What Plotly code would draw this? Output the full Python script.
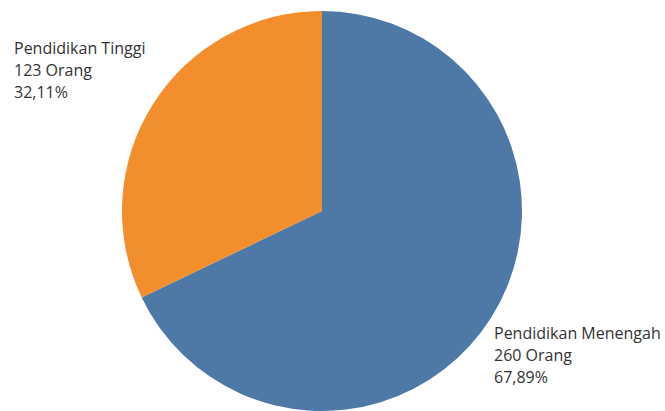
import plotly.graph_objects as go

categories = ["Pendidikan Menengah", "Pendidikan Tinggi"]
counts = [260, 123]
percent_labels = ["67,89%", "32,11%"]
colors = ["#4e79a7", "#f28e2b"]

W, H = 665, 411

def px_x(x):
    return x / W

def px_y(y):
    return 1 - y / H

fig = go.Figure(
    go.Pie(
        labels=categories,
        values=counts,
        marker=dict(colors=colors, line=dict(width=0)),
        sort=False,
        direction="clockwise",
        rotation=0,
        textinfo="none",
        hoverinfo="label+value+percent",
        domain=dict(x=[px_x(120), px_x(524)], y=[0, px_y(11)]),
        showlegend=False,
    )
)

# label positions (pixels): left x, centre y of first line
label_pos = {"Pendidikan Tinggi": (12, 48), "Pendidikan Menengah": (492, 333)}
line_gap = 22

annotations = []
for cat, cnt, pct in zip(categories, counts, percent_labels):
    x0, y0 = label_pos[cat]
    lines = [cat, f"{cnt} Orang", pct]
    for i, t in enumerate(lines):
        annotations.append(
            dict(
                text=t,
                x=px_x(x0),
                y=px_y(y0 + i * line_gap),
                xref="paper",
                yref="paper",
                xanchor="left",
                yanchor="middle",
                showarrow=False,
                font=dict(family="Open Sans", size=16, color="#333333"),
            )
        )

fig.update_layout(
    width=W,
    height=H,
    margin=dict(l=0, r=0, t=0, b=0),
    paper_bgcolor="white",
    plot_bgcolor="white",
    annotations=annotations,
)

fig.write_html("out.html")
